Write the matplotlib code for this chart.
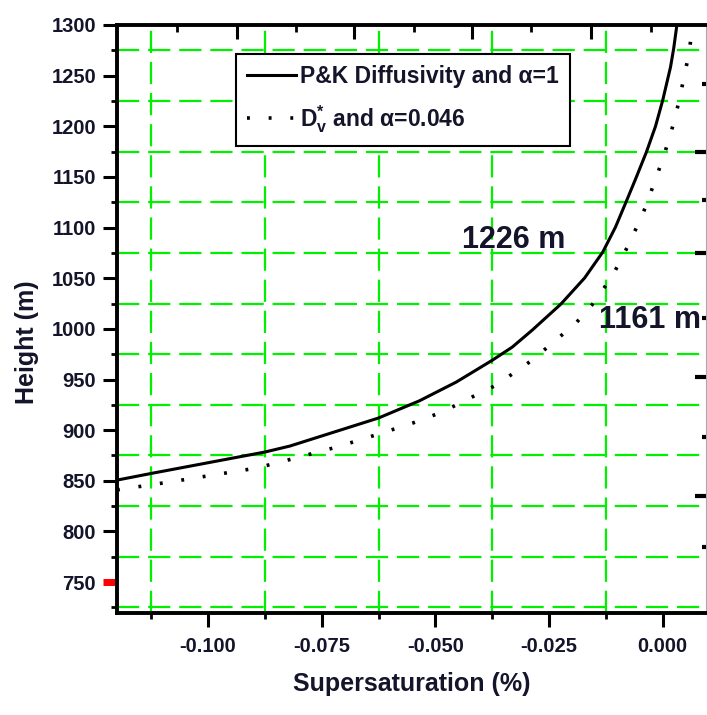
import numpy as np
import matplotlib
matplotlib.use("Agg")
import matplotlib.pyplot as plt
from matplotlib.ticker import MultipleLocator

plt.rcParams['mathtext.fontset'] = 'custom'
plt.rcParams['mathtext.rm'] = 'Liberation Sans:bold'
plt.rcParams['mathtext.it'] = 'Liberation Sans:bold'
plt.rcParams['mathtext.bf'] = 'Liberation Sans:bold'

# P&K diffusivity, alpha = 1
pk_ss = [-0.1200, -0.1121, -0.0875, -0.0820, -0.0625, -0.0535, -0.0454,
         -0.0375, -0.0331, -0.0287, -0.0224, -0.0172, -0.0132, -0.0104,
         -0.0079, -0.0058, -0.0036, -0.0016, 0.0000, 0.0017, 0.0024, 0.0031]
pk_h = [850.7, 857.6, 878.4, 884.3, 912.0, 929.0, 947.5,
        969.0, 982.0, 998.8, 1024.5, 1050.2, 1075.8, 1100.5,
        1127.2, 1150.0, 1174.6, 1200.0, 1226.0, 1258.5, 1277.0, 1300.0]

# D_v* and alpha = 0.046
dv_ss = [-0.1200, -0.1072, -0.0893, -0.0820, -0.0717, -0.0625, -0.0550,
         -0.0485, -0.0425, -0.0366, -0.0287, -0.0191, -0.0156, -0.0112,
         -0.0079, -0.0050, -0.0038, 0.0000, 0.0011, 0.0022, 0.0032,
         0.0041, 0.0047, 0.0056, 0.0063]
dv_h = [841.0, 849.7, 862.6, 871.0, 883.3, 896.1, 907.0,
        917.9, 931.5, 944.5, 969.2, 1005.7, 1023.5, 1051.2,
        1079.8, 1107.4, 1120.3, 1167.7, 1183.5, 1200.3, 1218.0,
        1236.0, 1250.0, 1268.0, 1290.0]

labels = ["P&K Diffusivity and α=1", r"$\mathrm{D}_\mathrm{v}^{*}$ and α=0.046"]

# odd tick marks on the top and right frame of the original
top_major = [-0.0936, -0.0678, -0.0419, -0.0158]
top_minor = [-0.1068, -0.0807, -0.0548, -0.0289, -0.0026]
right_major = [1174.6, 1074.9, 952.4, 834.9]
right_minor = [1241.7, 1127.2, 1010.7, 893.2, 784.5]

font = ['Liberation Sans', 'DejaVu Sans']
txtcol = '#14142a'

fig = plt.figure(figsize=(7.07, 7.15), dpi=100)
ax = fig.add_axes([117/707, 1-613/715, 589/707, 588/715])

ax.plot(pk_ss, pk_h, color='black', lw=2.2, label=labels[0])
ax.plot(dv_ss, dv_h, color='black', lw=2.6, linestyle=(0, (0.8, 5.2)),
        label=labels[1])

ax.set_xlim(-0.12, 0.0095)
ax.set_ylim(719.5, 1300)

ax.xaxis.set_major_locator(MultipleLocator(0.025))
ax.xaxis.set_minor_locator(MultipleLocator(0.0125))
ax.yaxis.set_major_locator(MultipleLocator(50))
ax.yaxis.set_minor_locator(MultipleLocator(25))
ax.xaxis.set_major_formatter(plt.FuncFormatter(lambda v, p: f"{v:.3f}" if abs(v) > 1e-9 else "0.000"))

ax.grid(False, which='major')
ax.grid(True, which='minor', color='#00f000', linestyle=(0, (10, 4)), lw=1.6)

ax.tick_params(which='major', direction='out', length=10, width=2.2,
               labelsize=14.5, labelcolor=txtcol, top=False, right=False)
ax.tick_params(which='minor', direction='out', length=4, width=2,
               top=False, right=False)
ax.tick_params(axis='y', pad=5)
ax.tick_params(axis='x', pad=7)
for lab in ax.get_xticklabels() + ax.get_yticklabels():
    lab.set_family(font)
    lab.set_weight('bold')

for s in ['left', 'bottom', 'top']:
    ax.spines[s].set_linewidth(2.8)
ax.spines['right'].set_linewidth(0.8)
ax.spines['right'].set_color('#aaaaaa')

# red tick at 750
for t in ax.yaxis.get_major_ticks():
    if abs(t.get_loc() - 750) < 1e-6:
        t.tick1line.set_markeredgecolor('red')
        t.tick1line.set_markeredgewidth(5)

ax.set_xlabel("Supersaturation (%)", fontsize=18, fontweight='bold',
              family=font, color=txtcol, labelpad=12)
ax.set_ylabel("Height (m)", fontsize=18, fontweight='bold',
              family=font, color=txtcol)
ax.yaxis.set_label_coords(-0.132, 0.46)

ax.text(-0.0327, 1087.7, "1226 m", fontsize=22, fontweight='bold',
        family=font, color=txtcol, ha='center', va='center')
ax.text(-0.0029, 1008.7, "1161 m", fontsize=22, fontweight='bold',
        family=font, color=txtcol, ha='center', va='center')

leg = ax.legend(loc='upper left', bbox_to_anchor=(0.202, 0.951),
                borderaxespad=0, fancybox=False, framealpha=1,
                edgecolor='black', handlelength=2.1, handletextpad=0.2,
                borderpad=0.5, labelspacing=0.65,
                prop={'family': font, 'weight': 'bold', 'size': 16.5})
leg.get_frame().set_linewidth(1.5)
for t in leg.get_texts():
    t.set_color(txtcol)

# extra ticks on top and right frame
axt = ax.twiny()
axt.set_xlim(ax.get_xlim())
axt.set_xticks(top_major)
axt.set_xticks(top_minor, minor=True)
axt.tick_params(which='major', direction='in', length=10, width=2.2,
                labeltop=False)
axt.tick_params(which='minor', direction='in', length=5, width=2)
for s in axt.spines.values():
    s.set_visible(False)

axr = ax.twinx()
axr.set_ylim(ax.get_ylim())
axr.set_yticks(right_major)
axr.set_yticks(right_minor, minor=True)
axr.tick_params(which='major', direction='in', length=8, width=3,
                labelright=False)
axr.tick_params(which='minor', direction='in', length=3, width=3)
for s in axr.spines.values():
    s.set_visible(False)

fig.savefig("out.png", dpi=100)
